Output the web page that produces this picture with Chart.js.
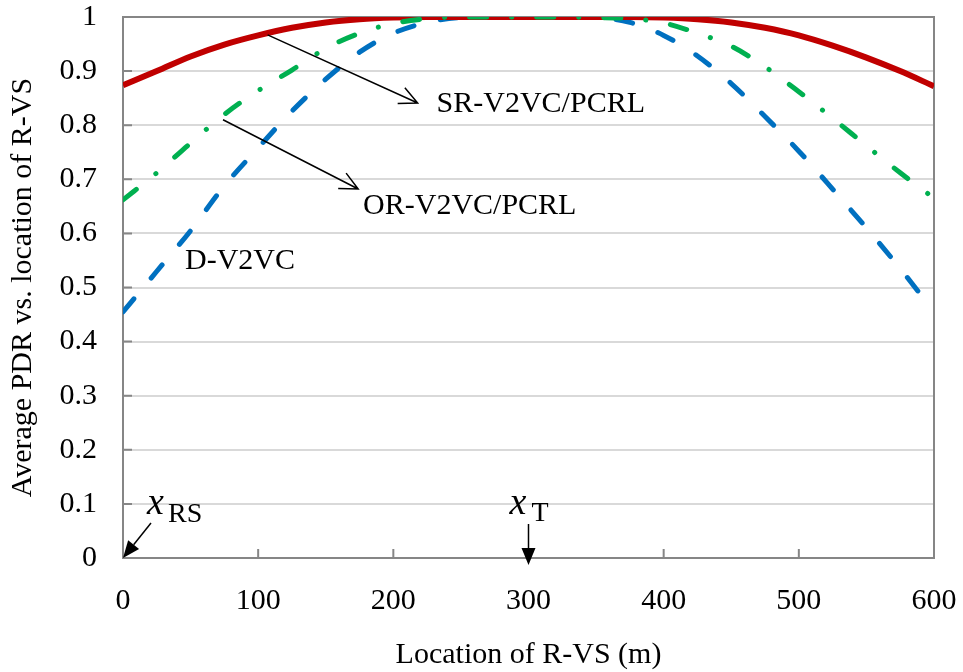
<!DOCTYPE html>
<html>
<head>
<meta charset="utf-8">
<script src="https://cdn.jsdelivr.net/npm/chart.js@4.4.1/dist/chart.umd.min.js"></script>
<style>
    html, body { margin: 0; padding: 0; background: #fff; }
    #grafico { display: block; }
</style>
</head>
<body>
<canvas id="grafico" width="963" height="672"></canvas>
<script>
// Location of the R-VS (m)
const locations = [0, 25, 50, 75, 100, 125, 150, 175, 200, 225, 250, 275, 300,
    325, 350, 375, 400, 425, 450, 475, 500, 525, 550, 575, 600];

// Average PDR
const pdrSR = [0.874, 0.900, 0.927, 0.949, 0.966, 0.980, 0.990, 0.996, 0.999, 1, 1, 1, 1,
    1, 1, 1, 0.999, 0.996, 0.990, 0.980, 0.966, 0.947, 0.925, 0.900, 0.872];
const pdrOR = [0.662, 0.712, 0.767, 0.820, 0.864, 0.902, 0.942, 0.970, 0.988, 0.997, 1, 1, 1,
    1, 0.999, 0.997, 0.989, 0.970, 0.946, 0.908, 0.862, 0.813, 0.762, 0.712, 0.665];
const pdrD = [0.455, 0.530, 0.605, 0.688, 0.758, 0.826, 0.885, 0.935, 0.970, 0.990, 0.999, 1, 1,
    1, 0.999, 0.990, 0.966, 0.928, 0.877, 0.816, 0.752, 0.682, 0.610, 0.535, 0.455];

const ticksX = [0, 100, 200, 300, 400, 500, 600];
const ticksY = [0, 0.1, 0.2, 0.3, 0.4, 0.5, 0.6, 0.7, 0.8, 0.9, 1];

const fonte = '"Liberation Serif", "Times New Roman", serif';

function pontos(valores) {
    return locations.map((x, i) => ({ x: x, y: valores[i] }));
}

// open arrow head (two strokes) at the end of a line
function setaAberta(ctx, x1, y1, x2, y2) {
    const ang = Math.atan2(y2 - y1, x2 - x1);
    const len = 20, abre = 0.45;
    ctx.beginPath();
    ctx.moveTo(x1, y1);
    ctx.lineTo(x2, y2);
    ctx.moveTo(x2 - len * Math.cos(ang - abre), y2 - len * Math.sin(ang - abre));
    ctx.lineTo(x2, y2);
    ctx.lineTo(x2 - len * Math.cos(ang + abre), y2 - len * Math.sin(ang + abre));
    ctx.stroke();
}

// filled arrow head
function setaCheia(ctx, x1, y1, x2, y2) {
    const ang = Math.atan2(y2 - y1, x2 - x1);
    const len = 17, meia = 7;
    const bx = x2 - len * Math.cos(ang), by = y2 - len * Math.sin(ang);
    ctx.beginPath();
    ctx.moveTo(x1, y1);
    ctx.lineTo(bx, by);
    ctx.stroke();
    ctx.beginPath();
    ctx.moveTo(x2, y2);
    ctx.lineTo(bx + meia * Math.sin(ang), by - meia * Math.cos(ang));
    ctx.lineTo(bx - meia * Math.sin(ang), by + meia * Math.cos(ang));
    ctx.closePath();
    ctx.fill();
}

// plot border and the small inside tick marks
const moldura = {
    id: 'moldura',
    beforeDatasetsDraw(chart) {
        const { ctx, chartArea: a, scales: { x, y } } = chart;
        ctx.save();
        ctx.strokeStyle = '#868686';
        ctx.lineWidth = 2;
        ctx.beginPath();
        ticksY.forEach(v => {
            const py = y.getPixelForValue(v);
            ctx.moveTo(a.left, py);
            ctx.lineTo(a.left + 9, py);
        });
        ticksX.forEach(v => {
            const px = x.getPixelForValue(v);
            ctx.moveTo(px, a.bottom);
            ctx.lineTo(px, a.bottom - 9);
        });
        ctx.stroke();
        ctx.strokeRect(a.left, a.top, a.right - a.left, a.bottom - a.top);
        ctx.restore();
    }
};

// curve labels, arrows and the x_RS / x_T marks
const notas = {
    id: 'notas',
    afterDraw(chart) {
        const { ctx, scales: { x, y } } = chart;
        const px = v => x.getPixelForValue(v);
        const py = v => y.getPixelForValue(v);
        ctx.save();
        ctx.fillStyle = '#000';
        ctx.strokeStyle = '#000';
        ctx.lineWidth = 1.5;

        ctx.font = '30px ' + fonte;
        ctx.textBaseline = 'middle';
        ctx.fillText('SR-V2VC/PCRL', px(232), py(0.839));
        ctx.fillText('OR-V2VC/PCRL', px(177.6), py(0.651));
        ctx.fillText('D-V2VC', px(45.9), py(0.549));

        setaAberta(ctx, px(107), py(0.967), px(218), py(0.841));
        setaAberta(ctx, px(74), py(0.81), px(174), py(0.682));

        // x_RS at the origin
        const x0 = px(0), y0 = py(0);
        ctx.textBaseline = 'alphabetic';
        ctx.font = 'italic 38px ' + fonte;
        ctx.fillText('x', x0 + 24, y0 - 44);
        ctx.font = '28px ' + fonte;
        ctx.fillText('RS', x0 + 45, y0 - 36);
        setaCheia(ctx, x0 + 28, y0 - 35, x0, y0);

        // x_T at 300 m
        const xt = px(300);
        ctx.font = 'italic 38px ' + fonte;
        ctx.fillText('x', xt - 19, y0 - 44);
        ctx.font = '28px ' + fonte;
        ctx.fillText('T', xt + 3, y0 - 37);
        setaCheia(ctx, xt, y0 - 34, xt, y0 + 7);
        ctx.restore();
    }
};

const dados = {
    datasets: [{
        label: 'SR-V2VC/PCRL',
        data: pontos(pdrSR),
        borderColor: '#C00000',
        borderWidth: 6,
        order: 1
    }, {
        label: 'OR-V2VC/PCRL',
        data: pontos(pdrOR),
        borderColor: '#00B050',
        borderWidth: 5,
        borderDash: [17, 25, 0.1, 25],
        borderCapStyle: 'round',
        order: 0
    }, {
        label: 'D-V2VC',
        data: pontos(pdrD),
        borderColor: '#0070C0',
        borderWidth: 5,
        borderDash: [17, 27],
        borderCapStyle: 'round',
        order: 2
    }]
};

const config = {
    type: 'line',
    data: dados,
    options: {
        responsive: false,
        animation: false,
        layout: { padding: { top: 17, right: 29, bottom: 0, left: 0 } },
        elements: {
            point: { radius: 0 },
            line: { cubicInterpolationMode: 'monotone', fill: false }
        },
        plugins: {
            legend: { display: false },
            tooltip: { enabled: false }
        },
        scales: {
            x: {
                type: 'linear',
                min: 0,
                max: 600,
                afterBuildTicks: scale => { scale.ticks = ticksX.map(v => ({ value: v })); },
                afterFit: scale => {
                    scale.height = 114;
                    scale.paddingLeft = 0;
                    scale.paddingRight = 0;
                },
                grid: { display: false, drawTicks: false },
                border: { display: false },
                ticks: {
                    color: '#000',
                    padding: 28,
                    maxRotation: 0,
                    callback: v => String(v),
                    font: { family: fonte, size: 30, lineHeight: 1 }
                },
                title: {
                    display: true,
                    text: 'Location of R-VS (m)',
                    color: '#000',
                    padding: { top: 0, bottom: 2 },
                    font: { family: fonte, size: 30, lineHeight: 1 }
                }
            },
            y: {
                min: 0,
                max: 1,
                afterBuildTicks: scale => { scale.ticks = ticksY.map(v => ({ value: v })); },
                afterFit: scale => {
                    scale.width = 123;
                    scale.paddingTop = 0;
                    scale.paddingBottom = 0;
                },
                grid: { color: '#d9d9d9', lineWidth: 2, drawTicks: false },
                border: { display: false },
                ticks: {
                    color: '#000',
                    padding: 26,
                    callback: v => String(v),
                    font: { family: fonte, size: 30, lineHeight: 1 }
                },
                title: {
                    display: true,
                    text: 'Average PDR vs. location of R-VS',
                    color: '#000',
                    padding: { top: 8, bottom: 0 },
                    font: { family: fonte, size: 30, lineHeight: 1 }
                }
            }
        }
    },
    plugins: [moldura, notas]
};

new Chart(document.getElementById('grafico'), config);
</script>
</body>
</html>
